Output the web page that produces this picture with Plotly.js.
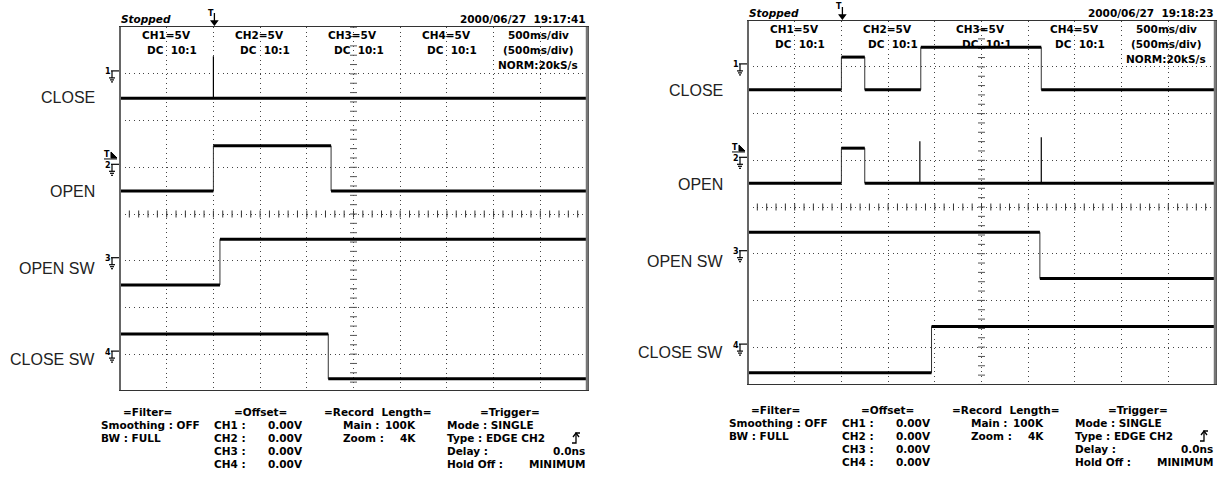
<!DOCTYPE html>
<html><head><meta charset="utf-8">
<script src="https://cdn.plot.ly/plotly-3.0.1.min.js"></script>
<style>html,body{margin:0;padding:0;background:#fff}#chart{width:1223px;height:489px}</style>
</head><body><div id="chart"></div>
<script>
// ================= DATA =================
const channelNames = ["CLOSE", "OPEN", "OPEN SW", "CLOSE SW"];
const channelScale = ["CH1=5V", "CH2=5V", "CH3=5V", "CH4=5V"];
const channelCoupling = ["DC\u00a0\u00a010:1", "DC\u00a0\u00a010:1", "DC\u00a0\u00a010:1", "DC\u00a0\u00a010:1"];
const timebaseLines = ["500ms/div", "(500ms/div)", "NORM:20kS/s"];
const voltsPerDiv = 5;
const msPerDiv = 500;
const groundDiv = [3, 1, -1, -3];   // ground marker position of each channel (div)
const triggerTimeMs = 1000;
const triggerLevelV = 1.0;          // on CH2

// Shot A  (2000/06/27 19:17:41) — step segments: times (ms) bound segments, levels (V)
const aStamp = "2000/06/27\u00a0\u00a019:17:41";
const aCh1T = [0, 5000];              const aCh1V = [-2.6];
const aCh2T = [0, 1000, 2260, 5000];  const aCh2V = [-2.55, 2.3, -2.55];
const aCh3T = [0, 1070, 5000];        const aCh3V = [-2.6, 2.3];
const aCh4T = [0, 2230, 5000];        const aCh4V = [2.15, -2.65];
const aSpikeCh = [0];  const aSpikeT = [1000];  const aSpikeV = [1.9];

// Shot B  (2000/06/27 19:18:23)
const bStamp = "2000/06/27\u00a0\u00a019:18:23";
const bCh1T = [0, 1000, 1250, 1850, 3140, 5000];  const bCh1V = [-2.45, 1.05, -2.45, 2.1, -2.45];
const bCh2T = [0, 1000, 1250, 5000];              const bCh2V = [-2.45, 1.3, -2.45];
const bCh3T = [0, 3125, 5000];                    const bCh3V = [2.3, -2.65];
const bCh4T = [0, 1965, 5000];                    const bCh4V = [-2.75, 2.2];
const bSpikeCh = [1, 1];  const bSpikeT = [1840, 3140];  const bSpikeV = [2.05, 2.47];

// Status table (bottom)
const filterLines = ["Smoothing\u00a0:\u00a0OFF", "BW\u00a0:\u00a0FULL"];
const offsetLabels = ["CH1\u00a0:", "CH2\u00a0:", "CH3\u00a0:", "CH4\u00a0:"];
const offsetValues = ["0.00V", "0.00V", "0.00V", "0.00V"];
const recordLabels = ["Main\u00a0:", "Zoom\u00a0:"];
const recordValues = ["100K", "4K"];
const triggerLabels = ["Mode\u00a0:\u00a0SINGLE", "Type\u00a0:\u00a0EDGE\u00a0CH2", "Delay\u00a0:", "Hold\u00a0Off\u00a0:"];
const triggerValues = ["", "", "0.0ns", "MINIMUM"];

// ================= DRAWING =================
const W = 1223, H = 489;
const PX = x => x / W, PY = y => 1 - y / H;
const traces = [], annotations = [], shapes = [];
const FONT = "DejaVu Sans";

function txt(text, x, y, xa, size, extra) {
  const f = Object.assign({family: FONT, size: size || 10.5, color: "#000", weight: "bold"}, extra || {});
  annotations.push({text: text, x: PX(x), y: PY(y), xref: "paper", yref: "paper",
    showarrow: false, xanchor: xa || "left", yanchor: "middle", font: f, borderpad: 0});
}
// pts: list of [cmd, x, y] with cmd in M / L
function pathPx(pts, color, w, fill) {
  let d = pts.map(p => p[0] + PX(p[1]).toFixed(5) + "," + PY(p[2]).toFixed(5)).join(" ");
  if (fill) d += " Z";
  const s = {type: "path", xref: "paper", yref: "paper", path: d, line: {color: color || "#000", width: w || 1}};
  if (fill) s.fillcolor = fill;
  shapes.push(s);
}

function panel(idx, geo, shot) {
  const xa = idx === 0 ? "x" : "x2", ya = idx === 0 ? "y" : "y2";
  const divPx = geo.div;
  const yPx = d => geo.center - d * divPx;
  const xPx = t => geo.x0 + (t / msPerDiv) * divPx;

  // center-line tick marks
  const tx = [], ty = [];
  for (let t = 0; t <= 5000; t += 100) { tx.push(t); ty.push(0); }
  traces.push({x: tx, y: ty, xaxis: xa, yaxis: ya, mode: "markers", hoverinfo: "skip",
    marker: {symbol: "line-ns", size: 5, line: {color: "#333", width: 1}}});
  const vx = [], vy = [];
  for (let d = -4; d <= 4.001; d += 0.2) { vx.push(2500); vy.push(d); }
  traces.push({x: vx, y: vy, xaxis: xa, yaxis: ya, mode: "markers", hoverinfo: "skip",
    marker: {symbol: "line-ew", size: 5, line: {color: "#555", width: 1}}});

  // waveforms
  shot.T.forEach((T, c) => {
    const V = shot.V[c];
    const lv = V.map(v => groundDiv[c] + v / voltsPerDiv);
    traces.push({x: T, y: lv.concat([lv[lv.length - 1]]), xaxis: xa, yaxis: ya, mode: "lines",
      line: {shape: "hv", color: "#333", width: 1}, hoverinfo: "skip"});
    const hx = [], hy = [];
    for (let i = 0; i < V.length; i++) { hx.push(T[i], T[i + 1], null); hy.push(lv[i], lv[i], null); }
    traces.push({x: hx, y: hy, xaxis: xa, yaxis: ya, mode: "lines",
      line: {color: "#000", width: 3}, hoverinfo: "skip"});
  });
  // spikes
  const sx = [], sy = [];
  shot.spikeCh.forEach((c, i) => {
    const t = shot.spikeT[i];
    let base = 0;
    const T = shot.T[c];
    for (let k = 0; k < T.length - 1; k++) if (t >= T[k] && t <= T[k + 1]) base = shot.V[c][k];
    sx.push(t, t, null); sy.push(groundDiv[c] + base / voltsPerDiv, groundDiv[c] + shot.spikeV[i] / voltsPerDiv, null);
  });
  traces.push({x: sx, y: sy, xaxis: xa, yaxis: ya, mode: "lines", line: {color: "#000", width: 1.2}, hoverinfo: "skip"});

  // thicker grey side borders
  pathPx([["M", geo.x0, geo.top], ["L", geo.x0, geo.bottom]], "#666", 2);
  pathPx([["M", geo.x1, geo.top], ["L", geo.x1, geo.bottom]], "#777", 2.5);

  // header
  txt("Stopped", geo.x0, geo.top - 8, "left", 10.5, {style: "italic"});
  txt(shot.stamp, geo.x1, geo.top - 8, "right", 10.5);
  for (let c = 0; c < 4; c++) {
    txt(channelScale[c], geo.x0 + 46 + c * 93.4, geo.top + 8, "center", 10.5);
    txt(channelCoupling[c], geo.x0 + 78 + c * 93.4, geo.top + 23, "right", 10.5);
  }
  timebaseLines.forEach((s, i) => txt(s, geo.x0 + 418, geo.top + 8 + i * 15, "center", 10.5));

  // channel names and ground markers
  const labelOff = [-117, -22, 54, 145];
  for (let c = 0; c < 4; c++) {
    txt(channelNames[c], geo.x0 - 24, geo.center + labelOff[c], "right", 16, {family: "Liberation Sans", weight: "normal", color: "#222"});
    const gy = yPx(groundDiv[c]);
    const gx = geo.x0 - 9;
    txt(String(c + 1), gx - 3.5, gy - 2, "center", 8);
    pathPx([["M", gx, gy - 3], ["L", gx + 8, gy - 3]], "#000", 1.2);
    pathPx([["M", gx + 1, gy - 3], ["L", gx + 1, gy + 4]], "#000", 1.2);
    pathPx([["M", gx - 2, gy + 4], ["L", gx + 4, gy + 4]], "#000", 1.2);
    pathPx([["M", gx - 1, gy + 6], ["L", gx + 3, gy + 6]], "#000", 1.2);
    pathPx([["M", gx, gy + 8], ["L", gx + 2, gy + 8]], "#000", 1.2);
  }
  // trigger level marker
  const tly = yPx(groundDiv[1] + triggerLevelV / voltsPerDiv) - 2;
  txt("T", geo.x0 - 13, tly - 1, "center", 8);
  pathPx([["M", geo.x0 - 9, tly - 4], ["L", geo.x0 - 3, tly + 2], ["L", geo.x0 - 9, tly + 2]], "#000", 1, "#000");
  pathPx([["M", geo.x0 - 16, tly + 3], ["L", geo.x0 - 3, tly + 3]], "#000", 1);
  // trigger position marker
  const tpx = xPx(triggerTimeMs);
  txt("T", tpx - 2, geo.top - 14, "center", 8);
  pathPx([["M", tpx + 1, geo.top - 14], ["L", tpx + 1, geo.top - 3]], "#000", 1.3);
  pathPx([["M", tpx - 2, geo.top - 6], ["L", tpx + 1, geo.top - 2], ["L", tpx + 4, geo.top - 6]], "#000", 1.3, "#000");

  // bottom status table
  const r0 = geo.tableTop, rs = 13;
  const X = geo.x0;
  txt("=Filter=", X + 27, r0, "center");
  filterLines.forEach((s, i) => txt(s, X - 20, r0 + (i + 1) * rs, "left"));
  txt("=Offset=", X + 140, r0, "center");
  offsetLabels.forEach((s, i) => { txt(s, X + 93, r0 + (i + 1) * rs, "left"); txt(offsetValues[i], X + 184, r0 + (i + 1) * rs, "right"); });
  txt("=Record\u00a0\u00a0Length=", X + 258, r0, "center");
  recordLabels.forEach((s, i) => { txt(s, X + 222, r0 + (i + 1) * rs, "left"); txt(recordValues[i], X + 297, r0 + (i + 1) * rs, "right"); });
  txt("=Trigger=", X + 390, r0, "center");
  triggerLabels.forEach((s, i) => {
    txt(s, X + 326, r0 + (i + 1) * rs, "left");
    if (triggerValues[i]) txt(triggerValues[i], X + 466, r0 + (i + 1) * rs, "right");
  });
  // rising-edge symbol
  const ex = X + 456, ey = r0 + 2 * rs;
  pathPx([["M", ex - 4, ey + 5], ["L", ex, ey + 5], ["L", ex, ey - 5], ["L", ex + 4, ey - 5]], "#000", 1.3);
  pathPx([["M", ex - 3, ey - 1], ["L", ex, ey - 5], ["L", ex + 3, ey - 1]], "#000", 1.3);
}

const geoA = {x0: 120, x1: 587, top: 27, center: 214, bottom: 390, div: 46.7, tableTop: 412};
const geoB = {x0: 748, x1: 1215, top: 21, center: 207, bottom: 384, div: 46.7, tableTop: 410};
panel(0, geoA, {T: [aCh1T, aCh2T, aCh3T, aCh4T], V: [aCh1V, aCh2V, aCh3V, aCh4V],
  spikeCh: aSpikeCh, spikeT: aSpikeT, spikeV: aSpikeV, stamp: aStamp});
panel(1, geoB, {T: [bCh1T, bCh2T, bCh3T, bCh4T], V: [bCh1V, bCh2V, bCh3V, bCh4V],
  spikeCh: bSpikeCh, spikeT: bSpikeT, spikeV: bSpikeV, stamp: bStamp});

function xAx(geo) {
  return {domain: [PX(geo.x0), PX(geo.x1)], range: [0, 5000], dtick: msPerDiv, tick0: 0,
    showgrid: true, gridcolor: "#444", gridwidth: 1, griddash: "1px,3.67px",
    showticklabels: false, ticks: "", zeroline: false, showline: true, mirror: true,
    linecolor: "#333", linewidth: 1, fixedrange: true};
}
function yAx(geo) {
  return {domain: [PY(geo.bottom), PY(geo.top)],
    range: [-(geo.bottom - geo.center) / geo.div, (geo.center - geo.top) / geo.div], dtick: 1, tick0: 0,
    showgrid: true, gridcolor: "#444", gridwidth: 1, griddash: "1px,3.67px",
    showticklabels: false, ticks: "", zeroline: false, showline: true, mirror: true,
    linecolor: "#555", linewidth: 1.5, fixedrange: true};
}
const layout = {
  width: W, height: H, margin: {l: 0, r: 0, t: 0, b: 0},
  paper_bgcolor: "#fff", plot_bgcolor: "#fff", showlegend: false,
  xaxis: Object.assign(xAx(geoA), {anchor: "y"}), yaxis: Object.assign(yAx(geoA), {anchor: "x"}),
  xaxis2: Object.assign(xAx(geoB), {anchor: "y2"}), yaxis2: Object.assign(yAx(geoB), {anchor: "x2"}),
  annotations: annotations, shapes: shapes
};
Plotly.newPlot("chart", traces, layout, {staticPlot: true, displayModeBar: false});
</script></body></html>
